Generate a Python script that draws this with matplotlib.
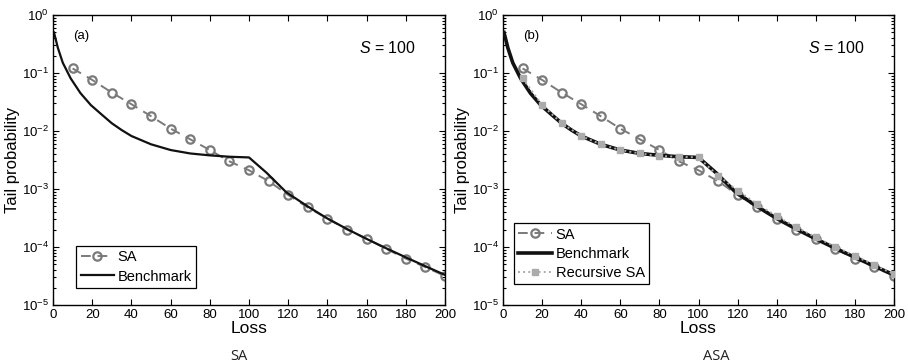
import matplotlib
matplotlib.use("Agg")
import matplotlib.pyplot as plt
from matplotlib.ticker import LogLocator, NullFormatter, MultipleLocator
import numpy as np

plt.rcParams['font.family'] = ['Liberation Sans', 'DejaVu Sans']
plt.rcParams['mathtext.fontset'] = 'custom'
plt.rcParams['mathtext.rm'] = 'Liberation Sans'
plt.rcParams['mathtext.it'] = 'Liberation Sans:italic'

# ---- data ----
sa_x = [10, 20, 30, 40, 50, 60, 70, 80, 90, 100,
        110, 120, 130, 140, 150, 160, 170, 180, 190, 200]
sa_y = [0.12, 0.076, 0.046, 0.029, 0.018, 0.011, 0.0072, 0.0047, 0.0030, 0.0021,
        0.00137, 0.00079, 0.00048, 0.00031, 0.00020, 0.000139, 0.000093, 0.000063,
        0.000045, 0.0000316]

bench_x = [0.5, 2.5, 5, 9, 14, 19.3, 25, 30, 35, 40, 50, 60, 70, 80, 90, 100,
           109, 119, 130, 140, 150, 160, 170, 181, 191, 200]
bench_y = [0.50, 0.27, 0.15, 0.081, 0.045, 0.028, 0.019, 0.0136, 0.0104, 0.0082,
           0.0059, 0.0047, 0.0041, 0.0038, 0.0036, 0.0035,
           0.0019, 0.00088, 0.00050, 0.00031, 0.000204, 0.000138, 0.000095,
           0.000064, 0.000045, 0.000033]

rsa_x = [10, 20, 30, 40, 50, 60, 70, 80, 90, 100,
         110, 120, 130, 140, 150, 160, 170, 180, 190, 200]
rsa_y = [0.081, 0.028, 0.0136, 0.0082, 0.0059, 0.0047, 0.0041, 0.0037, 0.0036, 0.0035,
         0.0017, 0.00094, 0.00055, 0.00034, 0.00022, 0.000147, 0.000102, 0.000070,
         0.000049, 0.000034]

panel_labels = ['(a)', '(b)']
captions = ['SA', 'ASA']

W, H = 908, 364
fig = plt.figure(figsize=(W / 100, H / 100), dpi=100)

def add_axes(x0, x1, y_top, y_bot):
    return fig.add_axes([x0 / W, 1 - y_bot / H, (x1 - x0) / W, (y_bot - y_top) / H])

axA = add_axes(53, 445, 15, 305)
axB = add_axes(503, 894, 15, 305)

sa_color = '#7a7a7a'
rsa_color = '#ababab'

def style(ax):
    ax.set_yscale('log')
    ax.set_xlim(0, 200)
    ax.set_ylim(1e-5, 1)
    ax.xaxis.set_major_locator(MultipleLocator(20))
    ax.yaxis.set_major_locator(LogLocator(base=10, numticks=10))
    ax.yaxis.set_minor_locator(LogLocator(base=10, subs=np.arange(2, 10), numticks=10))
    ax.yaxis.set_minor_formatter(NullFormatter())
    ax.tick_params(which='both', direction='in', top=True, right=True,
                   labelsize=9.5, width=0.8, colors='black', pad=3)
    ax.tick_params(which='major', length=4)
    ax.tick_params(which='minor', length=2)
    for s in ax.spines.values():
        s.set_linewidth(1.0)
    ax.set_xlabel('Loss', fontsize=12.5, labelpad=0)
    ax.set_ylabel('Tail probability', fontsize=12, labelpad=1)

def legend(ax, anchor):
    leg = ax.legend(loc='lower left', bbox_to_anchor=anchor, fontsize=10.5,
                    frameon=True, fancybox=False, edgecolor='black', framealpha=1,
                    handlelength=2.3, handletextpad=0.25, borderpad=0.3,
                    labelspacing=0.35, borderaxespad=0)
    leg.get_frame().set_linewidth(0.9)
    return leg

# Panel (a)
axA.plot(sa_x, sa_y, color=sa_color, lw=1.4, dashes=(5, 3.5), marker='o',
         markersize=6, markerfacecolor='none', markeredgecolor=sa_color,
         markeredgewidth=1.6, label='SA')
axA.plot(bench_x, bench_y, color='#111111', lw=1.6, label='Benchmark')
style(axA)
axA.text(14.3, 10 ** -0.37, panel_labels[0], fontsize=9.5, va='center', ha='center')
axA.text(185, 10 ** -0.57, r'$S$ = 100', fontsize=11.5, va='center', ha='right')
legend(axA, (0.059, 0.059))

# Panel (b)
axB.plot(sa_x, sa_y, color=sa_color, lw=1.4, dashes=(5, 3.5), marker='o',
         markersize=6, markerfacecolor='none', markeredgecolor=sa_color,
         markeredgewidth=1.6, label='SA', zorder=2)
axB.plot(bench_x, bench_y, color='#111111', lw=2.6, label='Benchmark', zorder=3)
axB.plot(rsa_x, rsa_y, color=rsa_color, lw=1.4, linestyle=':', marker='s',
         markersize=5, markerfacecolor=rsa_color, markeredgecolor=rsa_color,
         label='Recursive SA', zorder=4)
style(axB)
axB.text(14.3, 10 ** -0.37, panel_labels[1], fontsize=9.5, va='center', ha='center')
axB.text(185, 10 ** -0.57, r'$S$ = 100', fontsize=11.5, va='center', ha='right')
legend(axB, (0.028, 0.072))

# captions
cap_font = ['Liberation Sans Narrow', 'Open Sans', 'DejaVu Sans']
fig.text(239 / W, 1 - 357 / H, captions[0], fontsize=10.5, ha='center', va='center',
         family=cap_font, color='#222222')
fig.text(716 / W, 1 - 357 / H, captions[1], fontsize=10.5, ha='center', va='center',
         family=cap_font, color='#222222')

fig.savefig('out.png', dpi=100)
